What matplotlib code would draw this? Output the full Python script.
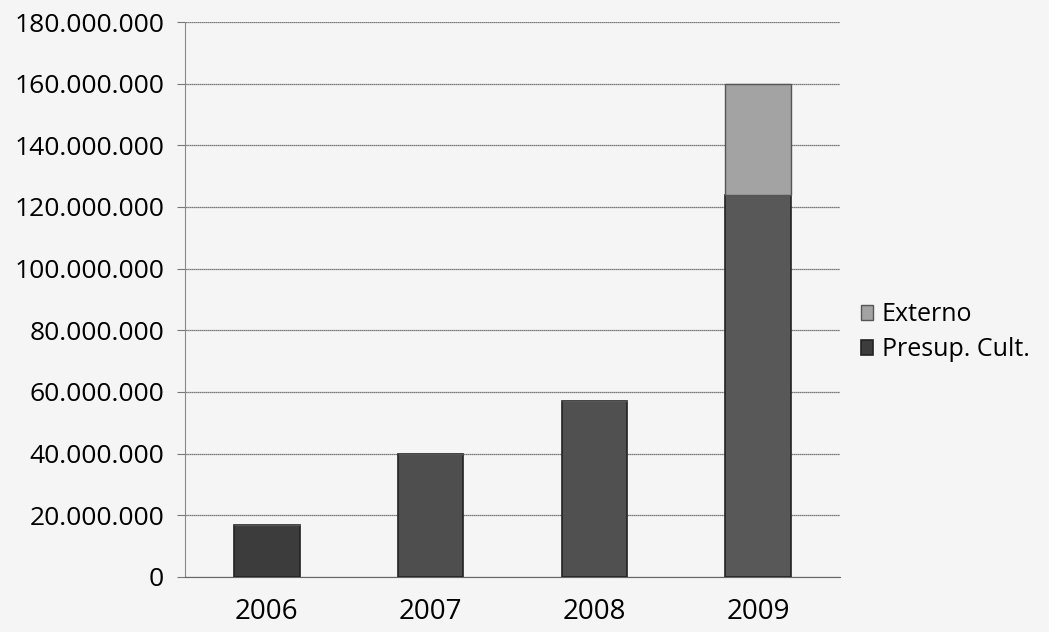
import numpy as np
import matplotlib
matplotlib.use("Agg")
import matplotlib.pyplot as plt
from matplotlib.ticker import FuncFormatter

# data
years = ["2006", "2007", "2008", "2009"]
presup_cult = [17000000, 40000000, 57000000, 124000000]
externo = [0, 0, 0, 36000000]

plt.rcParams['font.family'] = ['Open Sans', 'DejaVu Sans']

fig = plt.figure(figsize=(10.49, 6.32), dpi=100, facecolor="#f5f5f5")
ax = fig.add_axes([185/1049, 1-577/632, (840-185)/1049, (577-22)/632])
ax.set_facecolor("#f5f5f5")

x = np.arange(len(years))
w = 0.4
presup_colors = ["#3c3c3c", "#4e4e4e", "#505050", "#585858"]
ax.bar(x, presup_cult, width=w, color=presup_colors, edgecolor="#222222",
       linewidth=1.2, label="Presup. Cult.", zorder=3)
ax.bar(x, externo, width=w, bottom=presup_cult, color="#a3a3a3",
       edgecolor="#555555", linewidth=1.0, label="Externo", zorder=3)

ax.set_xlim(-0.5, 3.5)
ax.set_ylim(0, 180000000)
ax.set_yticks(np.arange(0, 180000001, 20000000))
ax.yaxis.set_major_formatter(FuncFormatter(lambda v, p: "{:,.0f}".format(v).replace(",", ".")))
ax.set_xticks(x)
ax.set_xticklabels(years)
ax.tick_params(axis="y", labelsize=19, length=6, color="#777777", pad=9)
ax.tick_params(axis="x", labelsize=20, length=0, pad=15)

ax.grid(axis="y", color="#555555", linewidth=0.9, linestyle=(0, (1, 0.6)), zorder=0)
for s in ["top", "right"]:
    ax.spines[s].set_visible(False)
ax.spines["left"].set_color("#888888")
ax.spines["bottom"].set_color("#666666")
ax.spines["bottom"].set_linestyle((0, (1, 0.6)))

handles, labels = ax.get_legend_handles_labels()
leg = fig.legend(handles[::-1], labels[::-1], loc="upper left",
                 bbox_to_anchor=(838/1049, 1-280/632), frameon=False,
                 fontsize=18, handlelength=0.5, handleheight=0.5,
                 handletextpad=0.35, labelspacing=0.4)

plt.savefig("out.png", dpi=100, facecolor=fig.get_facecolor())
